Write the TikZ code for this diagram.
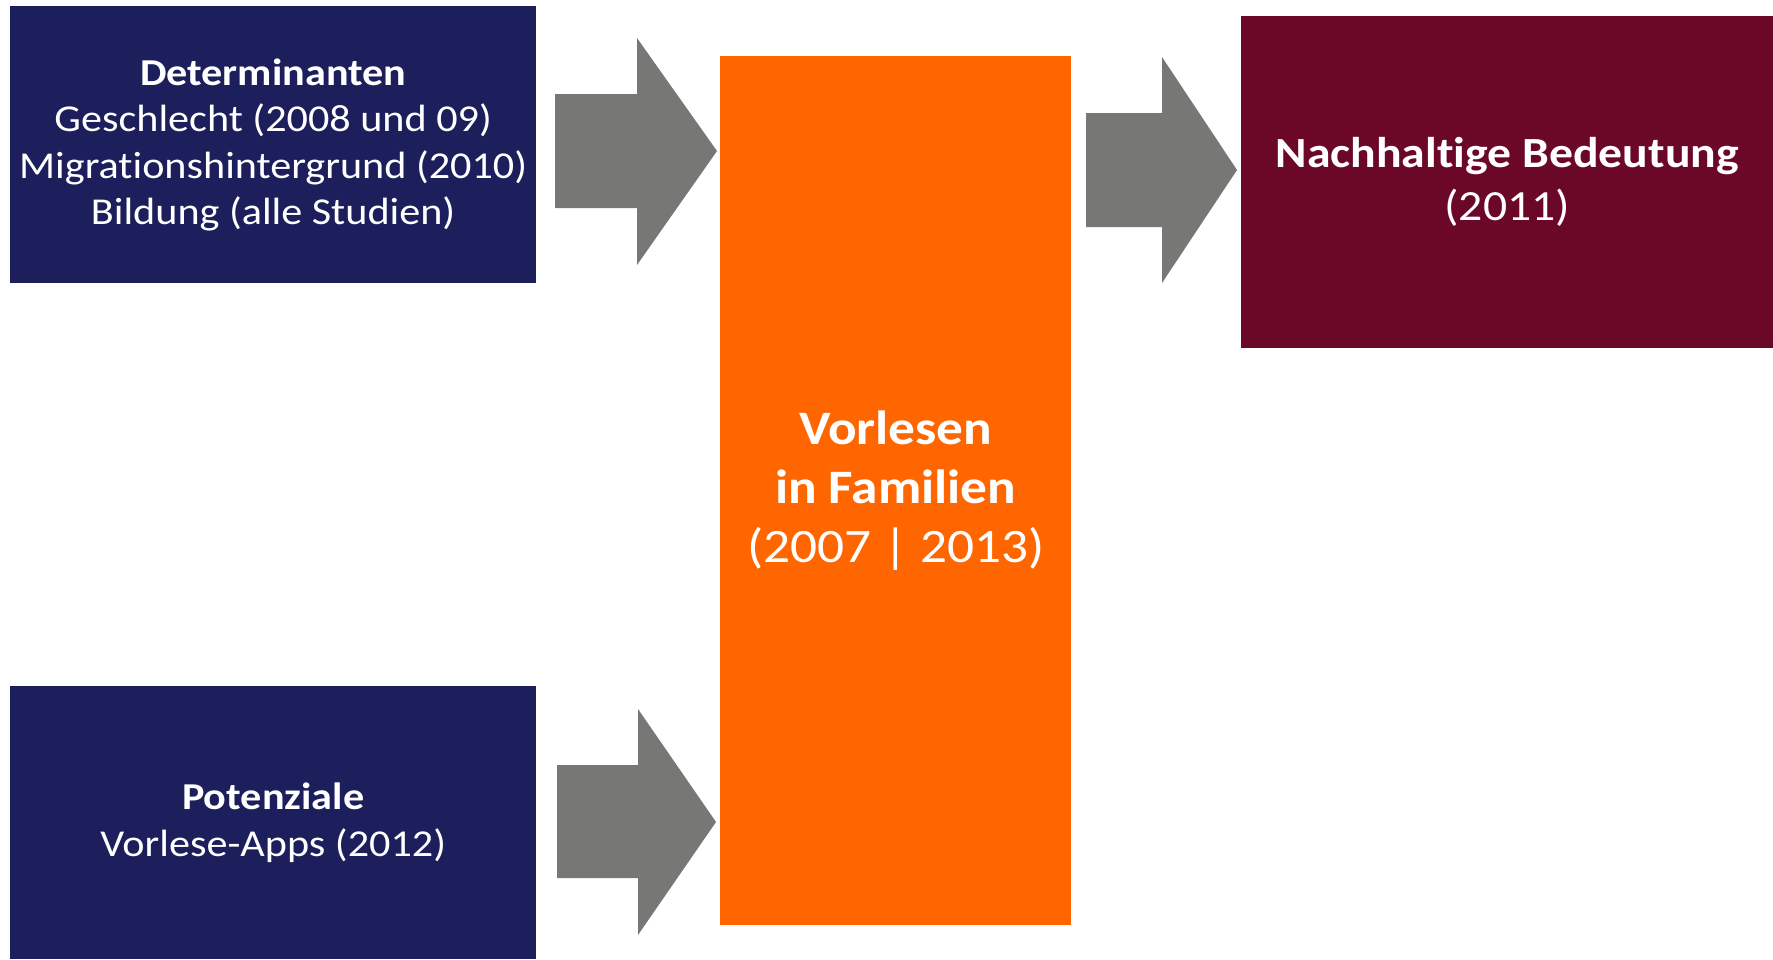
\documentclass[tikz,border=0pt]{standalone}
\usepackage{fontspec}
\setmainfont{Carlito}[FakeStretch=1.11, Ligatures=NoCommon]
\definecolor{navyblue}{HTML}{1C1F5C}
\definecolor{readorange}{HTML}{FF6600}
\definecolor{darkmaroon}{HTML}{6B0828}
\definecolor{arrowgray}{HTML}{777775}

\begin{document}
\begin{tikzpicture}[x=1pt,y=-1pt,
	box/.style={rectangle, inner sep=0pt, align=center, text=white, anchor=north west}]

	\useasboundingbox (0,0) rectangle (1773,959);

	\node[box, fill=navyblue, minimum width=526pt, minimum height=277pt,
		font=\fontsize{38pt}{46.5pt}\selectfont] (det) at (10,6)
		{\textbf{Determinanten}\\Geschlecht (2008 und 09)\\Migrationshintergrund (2010)\\Bildung (alle Studien)};
	\node[box, fill=navyblue, minimum width=526pt, minimum height=273pt,
		font=\fontsize{38pt}{46.5pt}\selectfont] (pot) at (10,686)
		{\textbf{Potenziale}\\Vorlese-Apps (2012)};
	\node[box, fill=readorange, minimum width=351pt, minimum height=869pt,
		font=\fontsize{48pt}{59pt}\selectfont] (vor) at (720,56)
		{\textbf{Vorlesen}\\\textbf{in Familien}\\(2007 | 2013)};
	\node[box, fill=darkmaroon, minimum width=532pt, minimum height=332pt,
		font=\fontsize{43pt}{53pt}\selectfont] (nach) at (1241,16)
		{\textbf{Nachhaltige Bedeutung}\\(2011)};

	% block arrows
	\fill[arrowgray] (555,94) -- (637,94) -- (637,38) -- (717,151) -- (637,265) -- (637,208) -- (555,208) -- cycle;
	\fill[arrowgray] (1086,113) -- (1162,113) -- (1162,57) -- (1237,170) -- (1162,283) -- (1162,227) -- (1086,227) -- cycle;
	\fill[arrowgray] (557,765) -- (638,765) -- (638,709) -- (716,822) -- (638,935) -- (638,878) -- (557,878) -- cycle;

\end{tikzpicture}
\end{document}
